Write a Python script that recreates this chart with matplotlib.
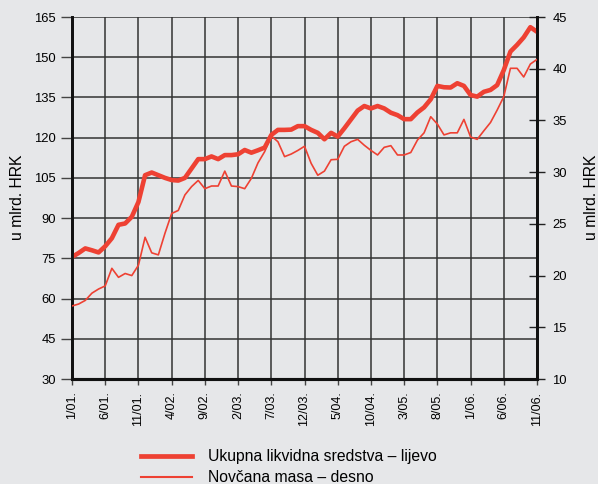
import matplotlib
matplotlib.use("Agg")
import matplotlib.pyplot as plt
from matplotlib.lines import Line2D

plt.rcParams['font.family'] = ['Liberation Sans', 'DejaVu Sans']

# monthly data, 1/01 .. 11/06
tick_labels = ['1/01.', '6/01.', '11/01.', '4/02.', '9/02.', '2/03.', '7/03.', '12/03.',
               '5/04.', '10/04.', '3/05.', '8/05.', '1/06.', '6/06.', '11/06.']

ukupna = [75.5, 77, 78.7, 78, 77.2, 79.5, 82.5, 87.5, 88, 90.5,
          96, 106, 107, 106, 105, 104.2, 104, 105, 108.5, 112,
          112, 113, 112, 113.5, 113.5, 113.8, 115.4, 114.4, 115.3, 116.3,
          121, 122.9, 122.9, 123, 124.3, 124.3, 122.9, 121.8, 119.4, 121.8,
          120.4, 123.5, 126.8, 130.1, 131.8, 130.9, 131.8, 130.9, 129.3, 128.4,
          126.9, 126.9, 129.4, 131.3, 134.3, 139.3, 138.8, 138.7, 140.3, 139.3,
          135.9, 135.3, 137.1, 137.8, 139.6, 145.2, 152.1, 154.6, 157.4, 161.2,
          159.5]

novcana = [17.06, 17.25, 17.6, 18.3, 18.7, 19.0, 20.7, 19.83, 20.2, 20.0,
           21.0, 23.7, 22.2, 22.0, 24.1, 26.0, 26.3, 27.8, 28.6, 29.2,
           28.4, 28.66, 28.66, 30.1, 28.66, 28.6, 28.4, 29.4, 30.9, 31.98,
           33.5, 32.94, 31.5, 31.75, 32.1, 32.5, 30.85, 29.7, 30.1, 31.2,
           31.24, 32.5, 32.94, 33.17, 32.6, 32.1, 31.66, 32.4, 32.56, 31.66,
           31.66, 31.9, 33.1, 33.8, 35.36, 34.65, 33.6, 33.8, 33.8, 35.1,
           33.4, 33.17, 34.0, 34.8, 36.0, 37.3, 40.04, 40.04, 39.2, 40.45,
           40.9]

bg = '#e6e7e9'
red = '#ee4133'
months = list(range(len(ukupna)))

fig = plt.figure(figsize=(5.98, 4.84), dpi=100, facecolor=bg)
ax = fig.add_axes([72/598, 1 - 379/484, 465/598, 362/484])
ax.set_facecolor(bg)
ax2 = ax.twinx()

# grid on left-axis ticks and x ticks
ax.set_xlim(0, 70)
ax.set_ylim(30, 165)
ax.set_xticks(range(0, 71, 5))
ax.set_xticklabels(tick_labels, rotation=90)
ax.set_yticks(range(30, 166, 15))
ax.grid(True, color='#333333', linewidth=1.1)
ax.set_axisbelow(True)

ax2.set_ylim(10, 45)
ax2.set_yticks(range(10, 46, 5))

ax.plot(months, ukupna, color=red, linewidth=3.3, solid_joinstyle='round', zorder=3)
ax2.plot(months, novcana, color=red, linewidth=1.2, zorder=3)

for a in (ax, ax2):
    for s in a.spines.values():
        s.set_color('#111111')
        s.set_linewidth(1.3)
    a.spines['bottom'].set_linewidth(2.2)
    a.spines['left'].set_linewidth(2.0)
    a.spines['right'].set_linewidth(2.0)
    a.spines['top'].set_visible(False)

ax.tick_params(axis='y', direction='out', length=8, width=1.0, color='#444444',
               labelsize=9.4, pad=3.6)
ax.tick_params(axis='x', direction='out', length=4.5, width=1.0, color='#444444',
               labelsize=9, pad=4.5)
ax2.tick_params(axis='y', direction='inout', length=12, width=1.0, color='#222222',
                labelsize=9.4, pad=5)

fig.text(18/598, 1 - 197/484, 'u mlrd. HRK', rotation=90, fontsize=11.3,
         ha='center', va='center')
fig.text(592/598, 1 - 197/484, 'u mlrd. HRK', rotation=90, fontsize=11.3,
         ha='center', va='center')

handles = [Line2D([], [], color=red, linewidth=3.4),
           Line2D([], [], color=red, linewidth=1.5)]
labels = ['Ukupna likvidna sredstva – lijevo', 'Novčana masa – desno']
fig.legend(handles, labels, loc='upper left', bbox_to_anchor=(127/598, 1 - 435/484),
           frameon=False, fontsize=11.3, handlelength=3.25, handletextpad=1.0,
           labelspacing=0.4)

fig.savefig('out.png', dpi=100, facecolor=bg)
